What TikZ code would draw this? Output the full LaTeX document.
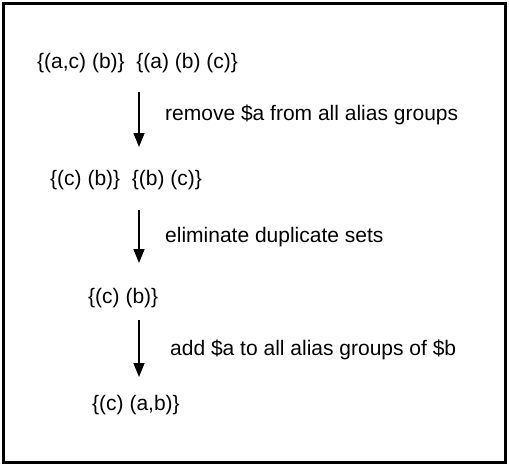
\documentclass[tikz,border=0pt]{standalone}
\usepackage{fontspec}
\setmainfont{Liberation Sans}
\usetikzlibrary{arrows.meta}
\begin{document}
\begin{tikzpicture}[x=1pt,y=-1pt,
  txt/.style={anchor=west,inner sep=0pt,font=\fontsize{21}{25}\selectfont},
  flow/.style={line width=1.5pt,-{Triangle[width=11pt,length=14pt]}},
  frame/.style={line width=3pt}]
\useasboundingbox (0,0) rectangle (509,466);
\draw[frame] (3.5,3.5) rectangle (505.5,462.5);
\node[txt] (s1) at (37,63) {\{(a,c) (b)\}\ \ \{(a) (b) (c)\}};
\node[txt] (l1) at (165,115) {remove \$a from all alias groups};
\node[txt] (s2) at (50,180) {\{(c) (b)\}\ \ \{(b) (c)\}};
\node[txt] (l2) at (165,237) {eliminate duplicate sets};
\node[txt] (s3) at (88,298) {\{(c) (b)\}};
\node[txt] (l3) at (170,350) {add \$a to all alias groups of \$b};
\node[txt] (s4) at (92,405) {\{(c) (a,b)\}};
\coordinate (a1s) at (139,92);
\coordinate (a1e) at (139,147);
\coordinate (a2s) at (139,210);
\coordinate (a2e) at (139,263);
\coordinate (a3s) at (139,320);
\coordinate (a3e) at (139,377);
\draw[flow] (a1s) -- (a1e);
\draw[flow] (a2s) -- (a2e);
\draw[flow] (a3s) -- (a3e);
\end{tikzpicture}
\end{document}
